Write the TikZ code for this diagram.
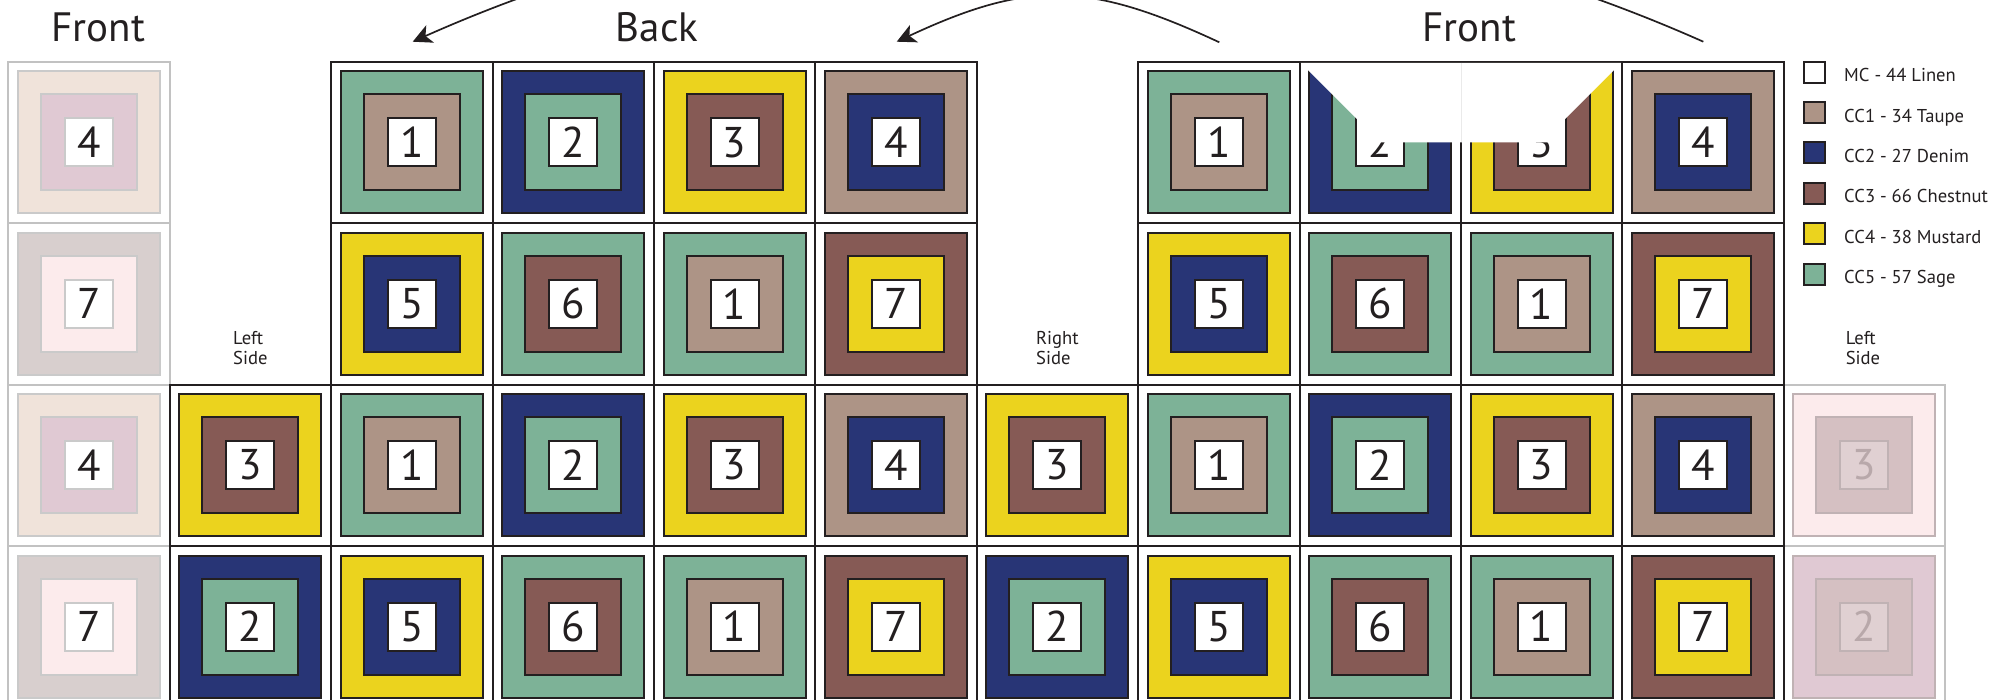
\documentclass[tikz,border=0pt]{standalone}
\usepackage{fontspec}
\setmainfont{PT Sans}
\usetikzlibrary{arrows.meta}
\definecolor{qsage}{HTML}{7DB297}
\definecolor{qtaupe}{HTML}{AD9486}
\definecolor{qdenim}{HTML}{283576}
\definecolor{qchest}{HTML}{865A55}
\definecolor{qmust}{HTML}{EBD31E}
\definecolor{qink}{HTML}{231F20}
\definecolor{qfgray}{HTML}{C2C2C2}
\definecolor{qfline}{HTML}{CACACA}
\definecolor{qfline2}{HTML}{C0B2B4}
\definecolor{fpeach}{HTML}{F0E3DA}
\definecolor{fmauve}{HTML}{E0C9D3}
\definecolor{fgray}{HTML}{D8CFCE}
\definecolor{fpink}{HTML}{FCEBEC}
\definecolor{fmid}{HTML}{D5C0C2}
\definecolor{finner}{HTML}{E0D0D2}
\definecolor{fdigit}{HTML}{B8A8AA}
\definecolor{qfaint}{HTML}{EAEAEA}
\colorlet{o1}{qsage}\colorlet{m1}{qtaupe}
\colorlet{o2}{qdenim}\colorlet{m2}{qsage}
\colorlet{o3}{qmust}\colorlet{m3}{qchest}
\colorlet{o4}{qtaupe}\colorlet{m4}{qdenim}
\colorlet{o5}{qmust}\colorlet{m5}{qdenim}
\colorlet{o6}{qsage}\colorlet{m6}{qchest}
\colorlet{o7}{qchest}\colorlet{m7}{qmust}
\tikzset{
  cellbox/.style={draw=qink, line width=2pt, minimum size=161.4pt, inner sep=0pt, outer sep=0pt},
  outsq/.style={draw=qink, line width=2pt, minimum size=142pt, inner sep=0pt, outer sep=0pt},
  midsq/.style={draw=qink, line width=2pt, minimum size=96pt, inner sep=0pt, outer sep=0pt},
  insq/.style={draw=qink, line width=2pt, fill=white, minimum size=48pt, inner sep=0pt, outer sep=0pt,
    font=\fontsize{43}{43}\selectfont},
  heading/.style={font=\fontsize{41}{45}\selectfont, text=qink, inner sep=0pt, anchor=base},
  sidelbl/.style={font=\fontsize{18.6}{20}\selectfont, text=qink, inner sep=0pt, align=left},
  legbox/.style={draw=qink, line width=2pt, minimum size=21pt, inner sep=0pt},
  legtxt/.style={font=\fontsize{18.6}{20}\selectfont, text=qink, inner sep=0pt, anchor=base west},
  arr/.style={draw=qink, line width=1.7pt, -{Stealth[length=19pt, width=19pt, inset=5pt]}},
}
% #1 col, #2 row, #3 cell line, #4 outer fill, #5 mid fill, #6 inner fill, #7 square lines, #8 digit colour, #9 number
\newcommand\qsq[9]{%
  \node[cellbox, draw=#3] (cell-#1-#2) at ({8.3+161.4*#1+80.7},{61.7+161.4*#2+80.7}) {};
  \node[outsq, fill=#4, draw=#7] (out-#1-#2) at (cell-#1-#2.center) {};
  \node[midsq, fill=#5, draw=#7] (mid-#1-#2) at (cell-#1-#2.center) {};
  \node[insq, fill=#6, draw=#7, text=#8] (in-#1-#2) at (cell-#1-#2.center) {#9};
}
\newcommand\qt[3]{\qsq{#1}{#2}{qink}{o#3}{m#3}{white}{qink}{qink}{#3}}
\begin{document}
\begin{tikzpicture}[x=1pt, y=-1pt]
\useasboundingbox (0,0) rectangle (2015,700);
\clip (0,0) rectangle (2015,700);
% faded tiles
\qsq{0}{0}{qfgray}{fpeach}{fmauve}{white}{qfline}{qink}{4}
\qsq{0}{1}{qfgray}{fgray}{fpink}{white}{qfline}{qink}{7}
\qsq{0}{2}{qfgray}{fpeach}{fmauve}{white}{qfline}{qink}{4}
\qsq{0}{3}{qfgray}{fgray}{fpink}{white}{qfline}{qink}{7}
\qsq{11}{2}{qfgray}{fpink}{fmid}{finner}{qfline2}{fdigit}{3}
\qsq{11}{3}{qfgray}{fmauve}{fmid}{finner}{qfline2}{fdigit}{2}
% main tiles
\foreach \c/\r/\n in {2/0/1,3/0/2,4/0/3,5/0/4,7/0/1,8/0/2,9/0/3,10/0/4,
  2/1/5,3/1/6,4/1/1,5/1/7,7/1/5,8/1/6,9/1/1,10/1/7,
  1/2/3,2/2/1,3/2/2,4/2/3,5/2/4,6/2/3,7/2/1,8/2/2,9/2/3,10/2/4,
  1/3/2,2/3/5,3/3/6,4/3/1,5/3/7,6/3/2,7/3/5,8/3/6,9/3/1,10/3/7}
  {\qt{\c}{\r}{\n}}
% white fold over front tiles 2 and 3
\fill[white] (1300.6,62.8) -- (1357.2,119.4) -- (1357.2,142.4) -- (1564.6,142.4)
  -- (1564.6,119.4) -- (1621.2,62.8) -- cycle;
\draw[qfaint, line width=0.8pt] (1460.9,62.8) -- (1460.9,142.4);
% headings
\node[heading] (hfrontl) at (98.3,41.7) {Front};
\node[heading] (hback) at (657,41.7) {Back};
\node[heading] (hfrontr) at (1469.5,41.7) {Front};
% side labels
\node[sidelbl] (lsidel) at (250.4,348.3) {Left\\Side};
\node[sidelbl] (rside) at (1057.4,348.3) {Right\\Side};
\node[sidelbl] (lsider) at (1863,348.3) {Left\\Side};
% arcs
\coordinate (a1s) at (1703.3,41.7);
\coordinate (a1e) at (412.7,41.7);
\coordinate (a2s) at (1219.3,42.3);
\coordinate (a2e) at (896.7,41.7);
\draw[arr] (a1s) .. controls +(-410.2,-182.3) and +(410.2,-182.6) .. (a1e);
\draw[arr] (a2s) .. controls +(-131.4,-61.3) and +(131.4,-61.3) .. (a2e);
% legend
\foreach \i/\c/\t in {0/white/MC - 44 Linen, 1/qtaupe/CC1 - 34 Taupe, 2/qdenim/CC2 - 27 Denim,
  3/qchest/CC3 - 66 Chestnut, 4/qmust/CC4 - 38 Mustard, 5/qsage/CC5 - 57 Sage}{
  \node[legbox, fill=\c] (lb\i) at (1814,{72.2+40.4*\i}) {};
  \node[legtxt] (lt\i) at (1844,{81.7+40.4*\i}) {\t};
}
\end{tikzpicture}
\end{document}
